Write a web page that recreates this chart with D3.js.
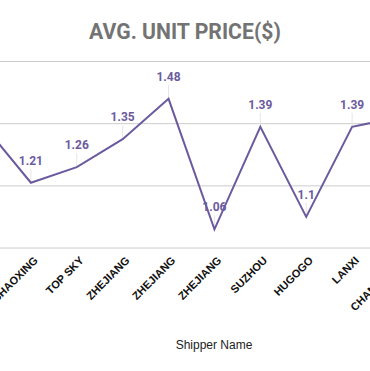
<!DOCTYPE html>
<html>
<head>
<meta charset="utf-8">
<script src="https://cdn.jsdelivr.net/npm/d3@7"></script>
<style>
body { margin: 0; background: #fff; }
.x-label { font-family: "Liberation Sans", Arial, sans-serif; font-weight: bold; font-size: 11px; fill: #111; }
.val-label { font-family: Roboto, sans-serif; font-weight: bold; font-size: 12px; fill: #6b5b9e; }
</style>
</head>
<body>
<div class="priceChart"></div>
<script>
var width = 370,
height = 371;

// data
var shippers = ["NINGBO", "SHAOXING", "TOP SKY", "ZHEJIANG", "ZHEJIANG", "ZHEJIANG", "SUZHOU", "HUGOGO", "LANXI", "CHANGZHOU"];
var prices = [1.39, 1.21, 1.26, 1.35, 1.48, 1.06, 1.39, 1.1, 1.39, 1.42];
var yTicks = [1.0, 1.2, 1.4, 1.6];

var canvas = d3.select('div.priceChart')
	.append('svg')
	.attr('width', width)
	.attr('height', height);

var xScale = d3.scalePoint()
	.domain(d3.range(shippers.length))
	.range([-15, 398]);

var yScale = d3.scaleLinear()
	.domain([1.0, 1.6])
	.range([248, 61.5]);

// title
canvas.append("text")
	.attr("x", 185)
	.attr("y", 39)
	.attr("text-anchor", "middle")
	.style("font-family", "Roboto, sans-serif")
	.style("font-weight", "bold")
	.style("font-size", "21.2px")
	.style("fill", "#737373")
	.text("AVG. UNIT PRICE($)");

// grid
canvas.append("g")
	.attr("class", "grid")
	.selectAll("line")
	.data(yTicks)
	.enter()
	.append("line")
	.attr("x1", 0)
	.attr("x2", width)
	.attr("y1", function(d){ return yScale(d); })
	.attr("y2", function(d){ return yScale(d); })
	.attr("stroke", "#cccccc")
	.attr("stroke-width", 1);

// x axis
var xAxis = canvas.append("g")
	.attr("transform", "translate(0," + yScale(1.0) + ")")
	.call(d3.axisBottom(xScale)
		.tickSize(0)
		.tickFormat(function(i){ return shippers[i]; }));

xAxis.select(".domain").remove();
xAxis.selectAll(".tick text")
	.attr("class", "x-label")
	.attr("text-anchor", "end")
	.attr("dx", 0)
	.attr("dy", 0)
	.attr("transform", "translate(5,11) rotate(-45)");

canvas.append("text")
	.attr("x", 214)
	.attr("y", 349)
	.attr("text-anchor", "middle")
	.style("font-family", "'Liberation Sans', Arial, sans-serif")
	.style("font-size", "12px")
	.style("fill", "#222")
	.text("Shipper Name");

// leader lines and value labels
var labelGroup = canvas.append('g').attr('class', 'labels');

labelGroup.selectAll('line')
	.data(prices)
	.enter()
	.append('line')
	.attr('x1', function(d, i){ return xScale(i); })
	.attr('x2', function(d, i){ return xScale(i); })
	.attr('y1', function(d){ return yScale(d); })
	.attr('y2', function(d){ return yScale(d) - 14; })
	.attr('stroke', '#e6e6e6')
	.attr('stroke-width', 1);

var line = d3.line()
	.x(function(d, i){ return xScale(i); })
	.y(function(d){ return yScale(d); });

canvas.append('path')
	.datum(prices)
	.attr('d', line)
	.attr('fill', 'none')
	.attr('stroke', '#6b5b9e')
	.attr('stroke-width', 2);

labelGroup.selectAll('text')
	.data(prices)
	.enter()
	.append('text')
	.attr('class', 'val-label')
	.attr('x', function(d, i){ return xScale(i); })
	.attr('y', function(d){ return yScale(d) - 18; })
	.attr('text-anchor', 'middle')
	.text(function(d){ return d; });
</script>
</body>
</html>
